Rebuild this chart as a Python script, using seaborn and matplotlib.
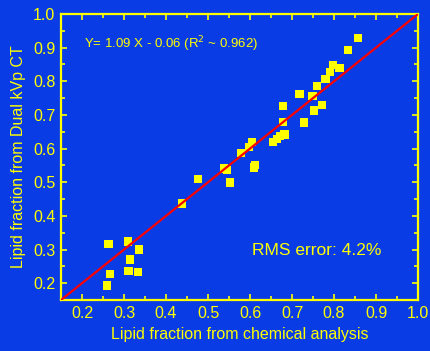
import numpy as np
import pandas as pd
import matplotlib
matplotlib.use('Agg')
import matplotlib.pyplot as plt
import seaborn as sns
from matplotlib.ticker import MultipleLocator

# Dados (fração lipídica)
chemical = [0.260, 0.263, 0.267, 0.310, 0.311, 0.314, 0.333, 0.335, 0.438, 0.476,
            0.538, 0.546, 0.553, 0.578, 0.598, 0.605, 0.610, 0.612, 0.654, 0.664,
            0.672, 0.682, 0.679, 0.679, 0.718, 0.729, 0.749, 0.752, 0.759, 0.771,
            0.780, 0.791, 0.798, 0.813, 0.834, 0.857]
dual_kvp = [0.193, 0.316, 0.227, 0.324, 0.237, 0.270, 0.234, 0.300, 0.437, 0.509,
            0.541, 0.536, 0.499, 0.586, 0.604, 0.620, 0.544, 0.552, 0.619, 0.628,
            0.638, 0.642, 0.680, 0.726, 0.763, 0.678, 0.756, 0.713, 0.786, 0.729,
            0.806, 0.827, 0.848, 0.840, 0.893, 0.929]
identity = [0.15, 1.0]

bg = '#0a3ce6'
yellow = '#ffff00'

df = pd.DataFrame({'chemical': chemical, 'dual_kvp': dual_kvp})

sns.set_style('ticks')
plt.rcParams['font.family'] = ['Liberation Sans', 'DejaVu Sans']

fig = plt.figure(figsize=(4.3, 3.51), dpi=100, facecolor=bg)
ax = fig.add_axes([0.1419, 0.1453, 0.8302, 0.8148])
ax.set_facecolor(bg)

sns.lineplot(x=identity, y=identity, color='red', linewidth=1.6, ax=ax, zorder=3)
sns.scatterplot(data=df, x='chemical', y='dual_kvp', marker='s', s=36,
                color=yellow, edgecolor='none', ax=ax, zorder=2)

ax.set_xlim(0.15, 1.0)
ax.set_ylim(0.15, 1.0)
ax.xaxis.set_major_locator(MultipleLocator(0.1))
ax.yaxis.set_major_locator(MultipleLocator(0.1))
ax.xaxis.set_minor_locator(MultipleLocator(0.05))
ax.yaxis.set_minor_locator(MultipleLocator(0.05))
ax.xaxis.set_major_formatter(lambda v, p: f'{v:.1f}')
ax.yaxis.set_major_formatter(lambda v, p: f'{v:.1f}')

for s in ax.spines.values():
    s.set_color(yellow)
    s.set_linewidth(1.6)
ax.tick_params(which='both', direction='in', colors=yellow, top=True, right=True,
               labelsize=11.5, width=1.2)
ax.tick_params(which='major', length=4, pad=4)
ax.tick_params(which='minor', length=3)

ax.set_xlabel('Lipid fraction from chemical analysis', color=yellow, fontsize=11.5, labelpad=5)
ax.set_ylabel('Lipid fraction from Dual kVp CT', color=yellow, fontsize=11.5, labelpad=5)

ax.text(0.205, 0.911, r'Y= 1.09 X - 0.06 (R$^{2}$ ~ 0.962)', color=yellow, fontsize=9.5,
        va='center', ha='left')
ax.text(0.605, 0.296, 'RMS error: 4.2%', color=yellow, fontsize=12.5, va='center', ha='left')

fig.savefig('out.png', dpi=100, facecolor=bg)
